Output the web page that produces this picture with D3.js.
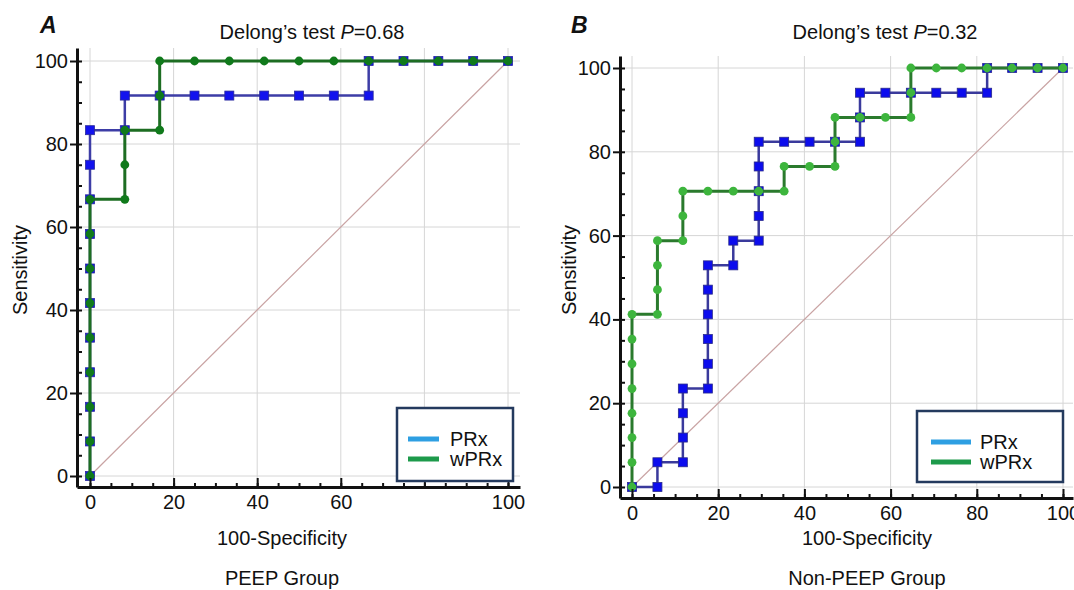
<!DOCTYPE html>
<html>
<head>
<meta charset="utf-8">
<script src="https://cdn.jsdelivr.net/npm/d3@7"></script>
<style>
  html, body { margin: 0; padding: 0; background: #fff; }
  svg { display: block; }
  text { font-family: "Liberation Sans", Arial, Helvetica, sans-serif; fill: #111; }
</style>
</head>
<body>
<svg id="chart" width="1074" height="590"></svg>
<script>
// ROC curves, PEEP group (A): 100-Specificity (x) and Sensitivity (y), in %
const peepPRxX = [0, 0, 0, 0, 0, 0, 0, 0, 0, 0, 0, 8.33, 8.33, 16.67, 25, 33.33, 41.67, 50, 58.33, 66.67, 66.67, 75, 83.33, 91.67, 100];
const peepPRxY = [0, 8.33, 16.67, 25, 33.33, 41.67, 50, 58.33, 66.67, 75, 83.33, 83.33, 91.67, 91.67, 91.67, 91.67, 91.67, 91.67, 91.67, 91.67, 100, 100, 100, 100, 100];
const peepWPRxX = [0, 0, 0, 0, 0, 0, 0, 0, 0, 8.33, 8.33, 8.33, 16.67, 16.67, 16.67, 25, 33.33, 41.67, 50, 58.33, 66.67, 75, 83.33, 91.67, 100];
const peepWPRxY = [0, 8.33, 16.67, 25, 33.33, 41.67, 50, 58.33, 66.67, 66.67, 75, 83.33, 83.33, 91.67, 100, 100, 100, 100, 100, 100, 100, 100, 100, 100, 100];

// ROC curves, Non-PEEP group (B)
const nonPeepPRxX = [0, 5.9, 5.9, 11.8, 11.8, 11.8, 11.8, 17.6, 17.6, 17.6, 17.6, 17.6, 17.6, 23.5, 23.5, 29.4, 29.4, 29.4, 29.4, 29.4, 35.3, 41.2, 47.1, 52.9, 52.9, 52.9, 58.8, 64.7, 70.6, 76.5, 82.4, 82.4, 88.2, 94.1, 100];
const nonPeepPRxY = [0, 0, 5.9, 5.9, 11.8, 17.6, 23.5, 23.5, 29.4, 35.3, 41.2, 47.1, 52.9, 52.9, 58.8, 58.8, 64.7, 70.6, 76.5, 82.4, 82.4, 82.4, 82.4, 82.4, 88.2, 94.1, 94.1, 94.1, 94.1, 94.1, 94.1, 100, 100, 100, 100];
const nonPeepWPRxX = [0, 0, 0, 0, 0, 0, 0, 0, 5.9, 5.9, 5.9, 5.9, 11.8, 11.8, 11.8, 17.6, 23.5, 29.4, 35.3, 35.3, 41.2, 47.1, 47.1, 47.1, 52.9, 58.8, 64.7, 64.7, 64.7, 70.6, 76.5, 82.4, 88.2, 94.1, 100];
const nonPeepWPRxY = [0, 5.9, 11.8, 17.6, 23.5, 29.4, 35.3, 41.2, 41.2, 47.1, 52.9, 58.8, 58.8, 64.7, 70.6, 70.6, 70.6, 70.6, 70.6, 76.5, 76.5, 76.5, 82.4, 88.2, 88.2, 88.2, 88.2, 94.1, 100, 100, 100, 100, 100, 100, 100];

// Axis ticks and labels
const majorTicks = [0, 20, 40, 60, 80, 100];
const minorTicks = [0, 5, 10, 15, 20, 25, 30, 35, 40, 45, 50, 55, 60, 65, 70, 75, 80, 85, 90, 95, 100];
const peepXTickLabels = ["0", "20", "40", "60", "", "100"];
const nonPeepXTickLabels = ["0", "20", "40", "60", "80", "100"];
const yTickLabels = ["0", "20", "40", "60", "80", "100"];

// Text
const panelLetters = ["A", "B"];
const pValues = ["0.68", "0.32"];
const groupNames = ["PEEP Group", "Non-PEEP Group"];
const legendLabels = ["PRx", "wPRx"];
const legendColors = ["#2e9fe2", "#1d9a4b"];

const svg = d3.select("#chart");

function zip(xs, ys) { return xs.map((v, i) => [v, ys[i]]); }

function drawPanel(cfg) {
  const g = svg.append("g");
  const x = d3.scaleLinear().domain([0, 100]).range([cfg.x0, cfg.x100]);
  const y = d3.scaleLinear().domain([0, 100]).range([cfg.y0, cfg.y100]);
  const f = cfg.frame; // left, right, top, bottom in px
  const xa = x.copy().domain([x.invert(f.left), x.invert(f.right)]).range([f.left, f.right]);
  const ya = y.copy().domain([y.invert(f.bottom), y.invert(f.top)]).range([f.bottom, f.top]);

  // grid
  const grid = g.append("g").attr("stroke", "#d6d6d6").attr("stroke-width", 1);
  grid.selectAll("line.v").data(majorTicks).join("line")
    .attr("x1", d => x(d)).attr("x2", d => x(d))
    .attr("y1", f.top).attr("y2", f.bottom);
  grid.selectAll("line.h").data(majorTicks).join("line")
    .attr("x1", f.left).attr("x2", f.right)
    .attr("y1", d => y(d)).attr("y2", d => y(d));

  // reference diagonal
  g.append("line")
    .attr("x1", x(0)).attr("y1", y(0)).attr("x2", x(100)).attr("y2", y(100))
    .attr("stroke", "#c9a3a3").attr("stroke-width", 1.2);

  // curves
  const line = d3.line().x(d => x(d[0])).y(d => y(d[1]));
  cfg.series.forEach(s => {
    const pts = zip(s.xs, s.ys);
    g.append("path").datum(pts)
      .attr("d", line).attr("fill", "none")
      .attr("stroke", s.lineColor).attr("stroke-width", s.lineWidth);
    if (s.shape === "square") {
      g.selectAll(null).data(pts).join("rect")
        .attr("x", d => x(d[0]) - 4.5).attr("y", d => y(d[1]) - 4.5)
        .attr("width", 9).attr("height", 9)
        .attr("fill", s.markerColor)
        .attr("stroke", s.markerStroke).attr("stroke-width", 0.8);
    } else {
      g.selectAll(null).data(pts).join("circle")
        .attr("cx", d => x(d[0])).attr("cy", d => y(d[1]))
        .attr("r", 4.4).attr("fill", s.markerColor);
    }
  });

  // y axis: major ticks outward, minor ticks inward
  const yAxis = g.append("g").attr("transform", `translate(${f.left},0)`)
    .call(d3.axisLeft(ya).tickValues(majorTicks).tickSize(7).tickSizeOuter(0).tickPadding(2)
      .tickFormat((d, i) => yTickLabels[i]));
  g.append("g").attr("transform", `translate(${f.left},0)`)
    .call(d3.axisRight(ya).tickValues(minorTicks).tickSize(5).tickSizeOuter(0).tickFormat(""))
    .call(a => a.select(".domain").remove());

  // x axis: ticks point inward
  const xAxis = g.append("g").attr("transform", `translate(0,${f.bottom})`)
    .call(d3.axisBottom(xa).tickValues(majorTicks).tickSize(-9).tickSizeOuter(0).tickPadding(8)
      .tickFormat((d, i) => cfg.xLabels[i]));
  g.append("g").attr("transform", `translate(0,${f.bottom})`)
    .call(d3.axisBottom(xa).tickValues(minorTicks).tickSize(-4).tickSizeOuter(0).tickFormat(""))
    .call(a => a.select(".domain").remove());

  [yAxis, xAxis].forEach(a => {
    a.select(".domain").attr("stroke", "#111").attr("stroke-width", 3);
    a.selectAll(".tick line").attr("stroke", "#111").attr("stroke-width", 2);
    a.selectAll(".tick text").attr("font-size", 20).attr("fill", "#111")
      .style("font-family", "'Liberation Sans', Arial, sans-serif");
  });
  g.selectAll(".tick line").attr("stroke", "#111").attr("stroke-width", 2);

  // legend
  const lg = g.append("g");
  lg.append("rect")
    .attr("x", cfg.legend.x).attr("y", cfg.legend.y)
    .attr("width", cfg.legend.w).attr("height", cfg.legend.h)
    .attr("fill", "#fff").attr("stroke", "#243a5e").attr("stroke-width", 2.5);
  legendLabels.forEach((lab, i) => {
    const ly = cfg.legend.y + 31 + i * 20;
    lg.append("line")
      .attr("x1", cfg.legend.x + cfg.legend.sx).attr("x2", cfg.legend.x + cfg.legend.sx + cfg.legend.sw)
      .attr("y1", ly).attr("y2", ly)
      .attr("stroke", legendColors[i]).attr("stroke-width", 5);
    lg.append("text")
      .attr("x", cfg.legend.x + cfg.legend.tx).attr("y", ly + 7)
      .attr("font-size", 20).text(lab);
  });

  // titles
  g.append("text").attr("x", cfg.letterX).attr("y", 33)
    .attr("font-size", 23).attr("font-weight", "bold").attr("font-style", "italic")
    .text(cfg.letter);
  const t = g.append("text").attr("x", cfg.titleX).attr("y", 39)
    .attr("text-anchor", "middle").attr("font-size", 20);
  t.append("tspan").text("Delong\u2019s test ");
  t.append("tspan").attr("font-style", "italic").text("P");
  t.append("tspan").text("=" + cfg.p);

  g.append("text")
    .attr("transform", `translate(${cfg.sensX},270) rotate(-90)`)
    .attr("text-anchor", "middle").attr("font-size", 20).text("Sensitivity");
  g.append("text").attr("x", cfg.xTitleX).attr("y", 545)
    .attr("text-anchor", "middle").attr("font-size", 20).text("100-Specificity");
  g.append("text").attr("x", cfg.xTitleX).attr("y", 585)
    .attr("text-anchor", "middle").attr("font-size", 20).text(cfg.group);
}

drawPanel({
  x0: 90, x100: 508, y0: 476, y100: 61,
  frame: { left: 77, right: 520, top: 48, bottom: 487 },
  xLabels: peepXTickLabels,
  series: [
    { xs: peepPRxX, ys: peepPRxY, shape: "square", lineColor: "#3d3da6", lineWidth: 2.5, markerColor: "#1212ee", markerStroke: "#2a2a9a" },
    { xs: peepWPRxX, ys: peepWPRxY, shape: "circle", lineColor: "#1d6d22", lineWidth: 3, markerColor: "#107a1b" }
  ],
  legend: { x: 397, y: 408, w: 116, h: 73, sx: 11, sw: 31, tx: 53 },
  letter: panelLetters[0], letterX: 40, titleX: 312, p: pValues[0],
  sensX: 27, xTitleX: 282, group: groupNames[0]
});

drawPanel({
  x0: 632, x100: 1063, y0: 487, y100: 68,
  frame: { left: 620, right: 1073, top: 56, bottom: 498 },
  xLabels: nonPeepXTickLabels,
  series: [
    { xs: nonPeepPRxX, ys: nonPeepPRxY, shape: "square", lineColor: "#3a3a9c", lineWidth: 2.5, markerColor: "#0c0cee", markerStroke: "#2a2a8a" },
    { xs: nonPeepWPRxX, ys: nonPeepWPRxY, shape: "circle", lineColor: "#2a7a2d", lineWidth: 3, markerColor: "#3db53d" }
  ],
  legend: { x: 917, y: 411, w: 146, h: 71, sx: 14, sw: 40, tx: 63 },
  letter: panelLetters[1], letterX: 571, titleX: 885, p: pValues[1],
  sensX: 576, xTitleX: 867, group: groupNames[1]
});
</script>
</body>
</html>
